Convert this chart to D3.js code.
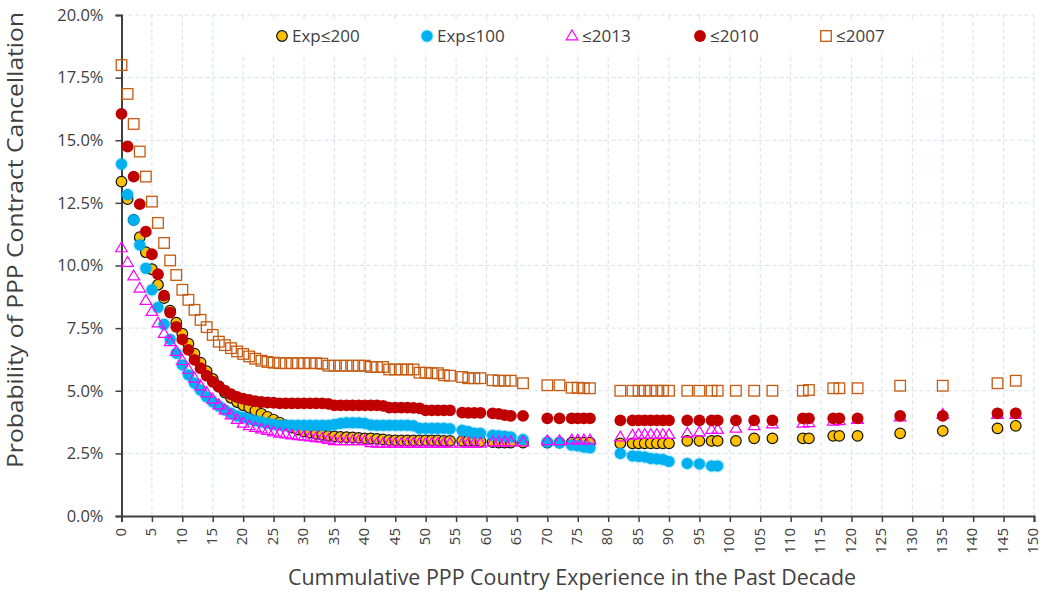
<!DOCTYPE html>
<html><head><meta charset="utf-8">
<script src="https://cdnjs.cloudflare.com/ajax/libs/d3/7.8.5/d3.min.js"></script>
<style>
html,body{margin:0;padding:0;background:#fff;}
svg{display:block;font-family:"Open Sans","Noto Sans",sans-serif;}
</style></head>
<body>
<svg id="chart" width="1042" height="593"></svg>
<script>
// ---- data ----
const xs = [0,1,2,3,4,5,6,7,8,9,10,11,12,13,14,15,16,17,18,19,20,21,22,23,24,25,26,27,28,29,
  30,31,32,33,34,35,36,37,38,39,40,41,42,43,44,45,46,47,48,49,50,51,52,53,54,
  56,57,58,59, 61,62,63,64, 66, 70,72,74,75,76,77, 82,84,85,86,87,88,89,90, 93,95,97,98,
  101,104,107, 112,113, 117,118, 121, 128, 135, 144, 147];

const exp200 = [13.35,12.65,11.82,11.13,10.53,9.85,9.23,8.7,8.2,7.72,
  7.28,6.88,6.48,6.12,5.78,5.47,5.18,4.93,4.72,4.55,
  4.42,4.32,4.2,4.08,3.96,3.85,3.73,3.62,3.53,3.45,
  3.38,3.33,3.28,3.24,3.2,3.18,3.16,3.15,3.14,3.12,
  3.1,3.1,3.08,3.06,3.03,3.02,3.02,3.02,3.02,3.02,
  3.02,3.02,3.02,3.0,3.0,
  3.0,3.0,3.0,2.98, 2.95,2.93,2.93,2.93, 2.93,
  2.93,2.93,2.93,2.93,2.93,2.93,
  2.9,2.9,2.9,2.9,2.9,2.9,2.9,2.9,
  3.0,3.0,3.0,3.0, 3.0,3.1,3.1, 3.1,3.1, 3.2,3.2, 3.2, 3.3, 3.4, 3.5, 3.6];

const exp100 = [14.05,12.83,11.82,10.82,9.89,9.03,8.33,7.65,7.05,6.5,
  6.03,5.63,5.3,5.03,4.76,4.56,4.39,4.23,4.1,3.99,
  3.93,3.86,3.8,3.75,3.7,3.66,3.63,3.62,3.62,3.62,
  3.62,3.62,3.62,3.62,3.62,3.65,3.7,3.72,3.72,3.72,
  3.7,3.63,3.62,3.62,3.62,3.62,3.62,3.62,3.6,3.5,
  3.5,3.5,3.5,3.5,3.48,
  3.42,3.37,3.3,3.3, 3.22,3.2,3.18,3.15, 3.05,
  2.95,2.92,2.83,2.8,2.75,2.72,
  2.5,2.4,2.38,2.36,2.3,2.28,2.26,2.18,
  2.1,2.08,2.0,2.0];

const le2013 = [10.7,10.12,9.58,9.09,8.6,8.16,7.7,7.28,6.95,6.56,
  6.2,5.85,5.5,5.19,4.92,4.66,4.43,4.23,4.03,3.85,
  3.7,3.6,3.53,3.47,3.41,3.35,3.3,3.27,3.23,3.2,
  3.18,3.15,3.12,3.1,3.05,3.0,3.0,3.0,3.0,3.0,
  3.0,2.92,2.9,2.9,2.9,2.9,2.9,2.9,2.9,2.9,
  2.9,2.9,2.9,2.9,2.9,
  2.9,2.9,2.9,2.9, 2.95,2.95,2.95,2.95, 2.95,
  3.0,3.0,3.03,3.03,3.03,3.03,
  3.15,3.22,3.25,3.25,3.25,3.25,3.25,3.25,
  3.3,3.35,3.45,3.45, 3.5,3.6,3.67, 3.7,3.72, 3.78,3.8, 3.85, 3.95, 4.05, 4.05, 4.05];

const le2010 = [16.05,14.75,13.55,12.45,11.35,10.45,9.65,8.8,8.12,7.55,
  7.05,6.63,6.23,5.9,5.6,5.36,5.16,5.0,4.86,4.75,
  4.68,4.63,4.58,4.55,4.53,4.52,4.5,4.5,4.5,4.5,
  4.5,4.5,4.5,4.5,4.48,4.42,4.42,4.42,4.42,4.42,
  4.42,4.42,4.42,4.4,4.33,4.33,4.33,4.33,4.32,4.3,
  4.22,4.22,4.22,4.22,4.22,
  4.13,4.12,4.12,4.12, 4.1,4.08,4.03,4.0, 4.0,
  3.9,3.9,3.9,3.9,3.9,3.9,
  3.82,3.82,3.82,3.82,3.82,3.82,3.82,3.82,
  3.82,3.82,3.82,3.82, 3.82,3.82,3.82, 3.9,3.9, 3.9,3.9, 3.9, 4.0, 4.0, 4.1, 4.1];

const le2007 = [18.0,16.85,15.65,14.55,13.55,12.55,11.7,10.9,10.2,9.62,
  9.03,8.63,8.23,7.83,7.54,7.23,6.96,6.82,6.7,6.57,
  6.47,6.37,6.28,6.2,6.15,6.12,6.1,6.1,6.1,6.1,
  6.1,6.1,6.1,6.08,6.0,6.0,6.0,6.0,6.0,6.0,
  6.0,5.95,5.95,5.95,5.85,5.85,5.85,5.85,5.85,5.72,
  5.72,5.7,5.7,5.62,5.6,
  5.55,5.5,5.5,5.5, 5.42,5.4,5.4,5.4, 5.3,
  5.22,5.22,5.12,5.12,5.1,5.1,
  5.0,5.0,5.0,5.0,5.0,5.0,5.0,5.0,
  5.0,5.0,5.0,5.0, 5.0,5.0,5.0, 5.0,5.03, 5.1,5.1, 5.1, 5.2, 5.2, 5.3, 5.4];

const seriesNames = ["Exp\u2264200","Exp\u2264100","\u22642013","\u22642010","\u22642007"];
const yTicks = [0,2.5,5,7.5,10,12.5,15,17.5,20];
const xTicks = d3.range(0,151,5);
const yTitle = "Probability of PPP Contract Cancellation";
const xTitle = "Cummulative PPP Country Experience in the Past Decade";

// ---- layout ----
const svg = d3.select("#chart");
const L = 121.5, R = 1034, T = 15, B = 516;
const x = d3.scaleLinear().domain([0,150]).range([L,R]);
const y = d3.scaleLinear().domain([0,20]).range([B,T]);

const defs = svg.append("defs");
const f = defs.append("filter").attr("id","glow").attr("x","-50%").attr("y","-50%").attr("width","200%").attr("height","200%");
f.append("feGaussianBlur").attr("in","SourceGraphic").attr("stdDeviation",1.3).attr("result","b");
const fm = f.append("feMerge");
fm.append("feMergeNode").attr("in","b");
fm.append("feMergeNode").attr("in","SourceGraphic");

// gridlines
const grid = svg.append("g").attr("stroke","#d6e0f0").attr("stroke-width",1).attr("stroke-dasharray","4,3");
grid.selectAll(".hg").data(yTicks.filter(d=>d>0)).join("line")
  .attr("x1",L).attr("x2",R).attr("y1",d=>y(d)).attr("y2",d=>y(d));
grid.selectAll(".vg").data(xTicks.filter(d=>d>0)).join("line")
  .attr("y1",T).attr("y2",B).attr("x1",d=>x(d)).attr("x2",d=>x(d));

// axes
const yAxis = d3.axisLeft(y).tickValues(yTicks).tickFormat(d=>d3.format(".1f")(d)+"%").tickSize(6).tickPadding(12);
const gy = svg.append("g").attr("transform",`translate(${L},0)`).call(yAxis);
gy.select(".domain").attr("stroke","#404040").attr("stroke-width",2);
gy.selectAll(".tick line").attr("stroke","#404040").attr("stroke-width",1.5);
gy.selectAll(".tick text").attr("font-size",16.5).attr("fill","#404040").attr("font-family","'Open Sans',sans-serif");

const xAxis = d3.axisBottom(x).tickValues(xTicks).tickSize(6);
const gx = svg.append("g").attr("transform",`translate(0,${B})`).call(xAxis);
gx.select(".domain").attr("stroke","#404040").attr("stroke-width",2);
gx.selectAll(".tick line").attr("stroke","#404040").attr("stroke-width",1.5);
gx.selectAll(".tick text").attr("font-size",15).attr("fill","#404040").attr("font-family","'Open Sans',sans-serif")
  .attr("transform","rotate(-90)").attr("text-anchor","end").attr("x",-12).attr("y",0).attr("dy","0.25em");

// axis titles
svg.append("text").attr("transform",`translate(23,240) rotate(-90)`).attr("text-anchor","middle")
  .attr("font-size",21).attr("fill","#404040")
  .attr("textLength",456).attr("lengthAdjust","spacingAndGlyphs").text(yTitle);
svg.append("text").attr("x",572).attr("y",585).attr("text-anchor","middle")
  .attr("font-size",21).attr("fill","#404040")
  .attr("textLength",568).attr("lengthAdjust","spacingAndGlyphs").text(xTitle);

// legend background
svg.append("rect").attr("x",236).attr("y",20).attr("width",690).attr("height",33).attr("fill","#fff");

// marks
const tri = "M0,-6L5.8,3.8L-5.8,3.8Z";
const pts = (vals) => vals.map((v,i)=>({x:xs[i], v}));

const gp = svg.append("g");
gp.append("g").selectAll("circle").data(pts(exp200)).join("circle")
  .attr("cx",d=>x(d.x)).attr("cy",d=>y(d.v)).attr("r",5.3)
  .attr("fill","#FFC000").attr("stroke","#111").attr("stroke-width",1.2);
gp.append("g").attr("filter","url(#glow)").selectAll("circle").data(pts(exp100)).join("circle")
  .attr("cx",d=>x(d.x)).attr("cy",d=>y(d.v)).attr("r",5.5).attr("fill","#00B0F0");
gp.append("g").selectAll("path").data(pts(le2013)).join("path")
  .attr("d",tri).attr("transform",d=>`translate(${x(d.x)},${y(d.v)})`)
  .attr("fill","none").attr("stroke","#FF00FF").attr("stroke-width",1.2);
gp.append("g").selectAll("circle").data(pts(le2010)).join("circle")
  .attr("cx",d=>x(d.x)).attr("cy",d=>y(d.v)).attr("r",5.9).attr("fill","#C00000");
gp.append("g").selectAll("rect").data(pts(le2007)).join("rect")
  .attr("x",d=>x(d.x)-5.3).attr("y",d=>y(d.v)-5.3).attr("width",10.6).attr("height",10.6)
  .attr("fill","none").attr("stroke","#C55A11").attr("stroke-width",1.3);

// legend
const lg = svg.append("g");
const lx = [282, 427, 572, 700, 826];
const ly = 36;
lg.append("circle").attr("cx",lx[0]).attr("cy",ly).attr("r",5.3).attr("fill","#FFC000").attr("stroke","#111").attr("stroke-width",1.2);
lg.append("circle").attr("cx",lx[1]).attr("cy",ly).attr("r",5.5).attr("fill","#00B0F0").attr("filter","url(#glow)");
lg.append("path").attr("d",tri).attr("transform",`translate(${lx[2]},${ly})`).attr("fill","none").attr("stroke","#FF00FF").attr("stroke-width",1.2);
lg.append("circle").attr("cx",lx[3]).attr("cy",ly).attr("r",5.9).attr("fill","#C00000");
lg.append("rect").attr("x",lx[4]-5.3).attr("y",ly-5.3).attr("width",10.6).attr("height",10.6).attr("fill","none").attr("stroke","#C55A11").attr("stroke-width",1.3);
lg.selectAll("text").data(seriesNames).join("text")
  .attr("x",(d,i)=>lx[i]+10).attr("y",ly).attr("dy","0.35em")
  .attr("font-size",17).attr("fill","#404040").text(d=>d);
</script>
</body></html>
